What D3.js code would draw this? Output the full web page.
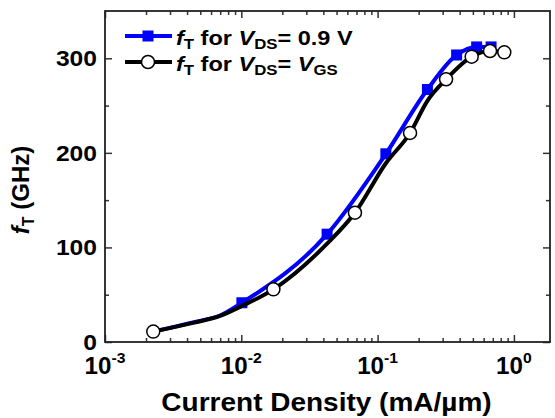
<!DOCTYPE html>
<meta charset="utf-8">
<body style="margin:0;background:#fff">
<script src="https://d3js.org/d3.v7.min.js"></script>
<script>

// data (current density in mA/um, fT in GHz)
const blueX = [0.00226, 0.0045, 0.00698, 0.0101, 0.0426, 0.115, 0.232, 0.38, 0.533, 0.68];
const blueY = [11, 21, 28, 41.5, 114, 199, 267, 303.5, 312, 312];
const blueMark = [false, false, false, true, true, true, true, true, true, true];

const blackX = [0.00226, 0.0045, 0.00698, 0.0101, 0.0172, 0.0426, 0.0682, 0.115, 0.173, 0.232, 0.318, 0.49, 0.668, 0.85];
const blackY = [11, 20.5, 27.5, 38, 55.7, 104, 136.7, 189, 221, 255, 277.8, 301.7, 307.7, 306.3];
const blackMark = [true, false, false, false, true, false, true, false, true, false, true, true, true, true];

const yTicks = [0, 100, 200, 300];
const yMinor = [50, 150, 250];
const xDecades = [-3, -2, -1, 0];

const W = 555, H = 418;
const margin = {top: 11, right: 5, bottom: 76, left: 105};
const width = W - margin.left - margin.right;
const height = H - margin.top - margin.bottom;
const stretch = 1.12; // the source picture is a bit wider than tall

const svg = d3.select("body").append("svg")
  .attr("width", W)
  .attr("height", H)
  .style("font-family", "'Liberation Sans', Arial, sans-serif")
  .style("font-weight", "bold");

const g = svg.append("g")
  .attr("transform", "translate(" + margin.left + "," + margin.top + ")");

const x = d3.scaleLog().domain([0.001, 1.84]).range([0, width]);
const y = d3.scaleLinear().domain([0, 350]).range([height, 0]);

// minor ticks on log axis: 2..9 per decade
const xMinor = [];
for (const d of xDecades) {
  for (let k = 2; k <= 9; k++) {
    const v = k * Math.pow(10, d);
    if (v <= 1.84) xMinor.push(v);
  }
}
const xMajor = xDecades.map(d => Math.pow(10, d));

function drawAxis(axisFn, scale, vals, size, tr) {
  const a = g.append("g")
    .attr("transform", tr)
    .call(axisFn(scale).tickValues(vals).tickSize(size).tickFormat(""));
  a.select(".domain").remove();
  a.selectAll("line").attr("stroke", "#333").attr("stroke-width", 1.5);
}

// inward ticks on all four sides
drawAxis(d3.axisBottom, x, xMajor, -7, "translate(0," + height + ")");
drawAxis(d3.axisBottom, x, xMinor, -4, "translate(0," + height + ")");
drawAxis(d3.axisTop, x, xMajor, -7, "translate(0,0)");
drawAxis(d3.axisTop, x, xMinor, -4, "translate(0,0)");
drawAxis(d3.axisLeft, y, yTicks, -7, "translate(0,0)");
drawAxis(d3.axisLeft, y, yMinor, -4, "translate(0,0)");
drawAxis(d3.axisRight, y, yTicks, -7, "translate(" + width + ",0)");
drawAxis(d3.axisRight, y, yMinor, -4, "translate(" + width + ",0)");

// frame
g.append("rect")
  .attr("width", width)
  .attr("height", height)
  .attr("fill", "none")
  .attr("stroke", "#222")
  .attr("stroke-width", 1.8);

// y tick labels
g.selectAll(".ylab").data(yTicks).enter().append("text")
  .attr("transform", d => "translate(-8," + y(d) + ") scale(" + stretch + ",1)")
  .attr("dy", "0.36em")
  .attr("text-anchor", "end")
  .style("font-size", "22px")
  .text(d => d);

// x tick labels 10^n
const xl = g.selectAll(".xlab").data(xDecades).enter().append("text")
  .attr("transform", d => "translate(" + x(Math.pow(10, d)) + "," + (height + 32) + ") scale(1.05,1)")
  .attr("text-anchor", "middle")
  .style("font-size", "23px");
xl.append("tspan").text("10");
xl.append("tspan").attr("dy", -11).style("font-size", "15px").text(d => d);

// axis titles
g.append("text")
  .attr("transform", "translate(" + (width / 2 - 1) + "," + (height + 69) + ") scale(" + stretch + ",1)")
  .attr("text-anchor", "middle")
  .style("font-size", "25px")
  .text("Current Density (mA/\u00b5m)");

const yt = svg.append("text")
  .attr("transform", "translate(29,190) rotate(-90)")
  .attr("text-anchor", "middle")
  .style("font-size", "24px");
yt.append("tspan").style("font-style", "italic").text("f");
yt.append("tspan").attr("dy", 5).style("font-size", "16px").text("T");
yt.append("tspan").attr("dy", -5).text(" (GHz)");

// series
const line = d3.line()
  .x(d => x(d[0]))
  .y(d => y(d[1]))
  .curve(d3.curveMonotoneX);

const blue = blueX.map((v, i) => [v, blueY[i], blueMark[i]]);
const black = blackX.map((v, i) => [v, blackY[i], blackMark[i]]);

g.append("path").datum(blue)
  .attr("d", line)
  .attr("fill", "none")
  .attr("stroke", "#0000ff")
  .attr("stroke-width", 4);

g.selectAll(".sq").data(blue.filter(d => d[2])).enter().append("rect")
  .attr("x", d => x(d[0]) - 5.5)
  .attr("y", d => y(d[1]) - 5.5)
  .attr("width", 11)
  .attr("height", 11)
  .attr("fill", "#0000ff");

g.append("path").datum(black)
  .attr("d", line)
  .attr("fill", "none")
  .attr("stroke", "#000")
  .attr("stroke-width", 4);

g.selectAll(".ci").data(black.filter(d => d[2])).enter().append("circle")
  .attr("cx", d => x(d[0]))
  .attr("cy", d => y(d[1]))
  .attr("r", 6.5)
  .attr("fill", "#fff")
  .attr("stroke", "#000")
  .attr("stroke-width", 1.5);

// legend
const legend = [
  {color: "#0000ff", marker: "square", tail: [["= 0.9 V", false]]},
  {color: "#000", marker: "circle", tail: [["= ", false], ["V", true], ["GS", "sub"]]}
];
legend.forEach((d, i) => {
  const ly = 36 + i * 26;
  svg.append("line")
    .attr("x1", 125).attr("x2", 172)
    .attr("y1", ly).attr("y2", ly)
    .attr("stroke", d.color)
    .attr("stroke-width", 4);
  if (d.marker === "square") {
    svg.append("rect")
      .attr("x", 148 - 5.5).attr("y", ly - 5.5)
      .attr("width", 11).attr("height", 11)
      .attr("fill", d.color);
  } else {
    svg.append("circle")
      .attr("cx", 148).attr("cy", ly).attr("r", 6.5)
      .attr("fill", "#fff").attr("stroke", "#000").attr("stroke-width", 1.5);
  }
  const t = svg.append("text")
    .attr("transform", "translate(176," + (ly + 9) + ") scale(" + stretch + ",1)")
    .style("font-size", "21px");
  t.append("tspan").style("font-style", "italic").text("f");
  t.append("tspan").attr("dy", 4).style("font-size", "15px").text("T");
  t.append("tspan").attr("dy", -4).text(" for ");
  t.append("tspan").style("font-style", "italic").text("V");
  t.append("tspan").attr("dy", 4).style("font-size", "15px").text("DS");
  let shifted = true;
  d.tail.forEach(p => {
    const s = t.append("tspan").text(p[0]);
    if (p[1] === "sub") {
      s.attr("dy", 4).style("font-size", "15px");
      shifted = true;
    } else {
      if (shifted) s.attr("dy", -4);
      shifted = false;
      if (p[1] === true) s.style("font-style", "italic");
    }
  });
});

</script>
</body>
